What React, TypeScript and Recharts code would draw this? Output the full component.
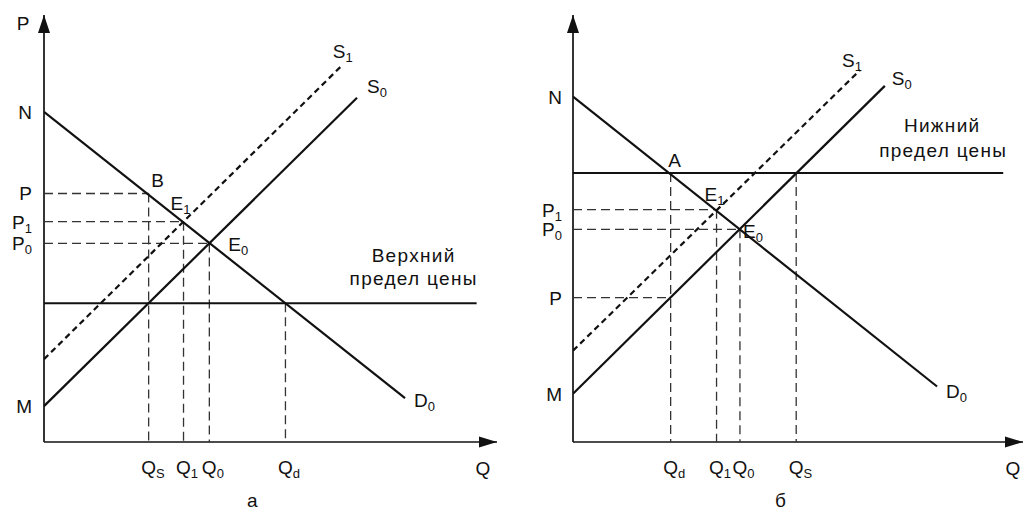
import React from "react";
import { LineChart, Line, XAxis, YAxis, ReferenceLine, ReferenceDot } from "recharts";

type Pt = { q: number; p: number };
type TickLabel = { v: number; main: string; sub?: string };
type Note = {
  text: string;
  sub?: string;
  at: Pt;
  dx: number;
  dy: number;
  anchor?: "start" | "middle" | "end";
  big?: boolean;
};

// ---------- а: верхний предел цены ----------
const demandA: Pt[] = [{ q: 0, p: 77.3 }, { q: 79.7, p: 10.3 }];
const supply0A: Pt[] = [{ q: 0, p: 8.4 }, { q: 69.1, p: 80.6 }];
const supply1A: Pt[] = [{ q: 0, p: 19.4 }, { q: 65.5, p: 87.9 }];
const limitA: Pt[] = [{ q: 0, p: 32.5 }, { q: 95.5, p: 32.5 }];
const priceTicksA: TickLabel[] = [
  { v: 77.3, main: "N" },
  { v: 58.2, main: "P" },
  { v: 51.6, main: "P", sub: "1" },
  { v: 46.5, main: "P", sub: "0" },
  { v: 8.4, main: "M" },
];
const qtyTicksA: TickLabel[] = [
  { v: 23.1, main: "Q", sub: "S" },
  { v: 30.8, main: "Q", sub: "1" },
  { v: 36.5, main: "Q", sub: "0" },
  { v: 53.3, main: "Q", sub: "d" },
];
// пунктир: от оси P до точки и от оси Q до точки
const hGuidesA: Pt[] = [{ q: 23.1, p: 58.2 }, { q: 30.8, p: 51.6 }, { q: 36.5, p: 46.5 }];
const vGuidesA: Pt[] = [{ q: 23.1, p: 58.2 }, { q: 30.8, p: 51.6 }, { q: 36.5, p: 46.5 }, { q: 53.3, p: 32.5 }];

// ---------- б: нижний предел цены ----------
const demandB: Pt[] = [{ q: 0, p: 80.9 }, { q: 80.9, p: 13.0 }];
const supply0B: Pt[] = [{ q: 0, p: 11.3 }, { q: 69.3, p: 83.4 }];
const supply1B: Pt[] = [{ q: 0, p: 21.4 }, { q: 63.8, p: 87.1 }];
const limitB: Pt[] = [{ q: 0, p: 63.0 }, { q: 95.6, p: 63.0 }];
const priceTicksB: TickLabel[] = [
  { v: 80.9, main: "N" },
  { v: 54.4, main: "P", sub: "1" },
  { v: 49.8, main: "P", sub: "0" },
  { v: 33.8, main: "P" },
  { v: 11.3, main: "M" },
];
const qtyTicksB: TickLabel[] = [
  { v: 21.7, main: "Q", sub: "d" },
  { v: 31.9, main: "Q", sub: "1" },
  { v: 37.1, main: "Q", sub: "0" },
  { v: 49.6, main: "Q", sub: "S" },
];
const hGuidesB: Pt[] = [{ q: 31.9, p: 54.4 }, { q: 37.1, p: 49.8 }, { q: 21.7, p: 33.8 }];
const vGuidesB: Pt[] = [{ q: 21.7, p: 63.0 }, { q: 31.9, p: 54.4 }, { q: 37.1, p: 49.8 }, { q: 49.6, p: 63.0 }];

// подписи (смещения в пикселях от опорной точки)
const notesA: Note[] = [
  { text: "P", at: { q: 0, p: 100 }, dx: -21, dy: 8, anchor: "middle" },
  { text: "Q", at: { q: 100, p: 0 }, dx: -14, dy: 26, anchor: "middle" },
  { text: "B", at: { q: 23.1, p: 58.2 }, dx: 9, dy: -13, anchor: "middle" },
  { text: "E", sub: "1", at: { q: 30.8, p: 51.6 }, dx: -13, dy: -19 },
  { text: "E", sub: "0", at: { q: 36.5, p: 46.5 }, dx: 19, dy: 1 },
  { text: "S", sub: "1", at: { q: 65.5, p: 87.9 }, dx: -8, dy: -16 },
  { text: "S", sub: "0", at: { q: 69.1, p: 80.6 }, dx: 10, dy: -12 },
  { text: "D", sub: "0", at: { q: 79.7, p: 10.3 }, dx: 9, dy: 2 },
  { text: "Верхний", at: { q: 95.5, p: 32.5 }, dx: -63, dy: -48, anchor: "middle", big: true },
  { text: "предел цены", at: { q: 95.5, p: 32.5 }, dx: -63, dy: -25, anchor: "middle", big: true },
  { text: "а", at: { q: 0, p: 0 }, dx: 209, dy: 58, anchor: "middle", big: true },
];
const notesB: Note[] = [
  { text: "Q", at: { q: 100, p: 0 }, dx: -10, dy: 26, anchor: "middle" },
  { text: "Нижний", at: { q: 95.6, p: 63.0 }, dx: -61, dy: -48, anchor: "middle", big: true },
  { text: "предел цены", at: { q: 95.6, p: 63.0 }, dx: -60, dy: -23, anchor: "middle", big: true },
  { text: "A", at: { q: 21.7, p: 63.0 }, dx: 4, dy: -13, anchor: "middle" },
  { text: "E", sub: "1", at: { q: 31.9, p: 54.4 }, dx: -12, dy: -16 },
  { text: "E", sub: "0", at: { q: 37.1, p: 49.8 }, dx: 3, dy: 2 },
  { text: "S", sub: "1", at: { q: 63.8, p: 87.1 }, dx: -18, dy: -10 },
  { text: "S", sub: "0", at: { q: 69.3, p: 83.4 }, dx: 7, dy: -8 },
  { text: "D", sub: "0", at: { q: 80.9, p: 13.0 }, dx: 9, dy: 5 },
  { text: "б", at: { q: 0, p: 0 }, dx: 208, dy: 58, anchor: "middle", big: true },
];

const INK = "#111";
const FONT = '"Liberation Sans", Arial, Helvetica, sans-serif';

function SubText({ x, y, main, sub, anchor = "start", big = false }: any) {
  return (
    <text
      x={x}
      y={y + 7}
      textAnchor={anchor}
      fontFamily={FONT}
      fontSize={19}
      letterSpacing={big ? 1.3 : 0}
      fill={INK}
    >
      {main}
      {sub && (
        <tspan fontSize={13} dy={4}>
          {sub}
        </tspan>
      )}
    </text>
  );
}

const findLabel = (labels: TickLabel[], v: number) => labels.find((l) => Math.abs(l.v - v) < 1e-6);

function XTick(props: any) {
  const t = findLabel(props.labels, props.payload?.value);
  if (!t) return <g />;
  return <SubText x={props.x - 7.5} y={props.y} main={t.main} sub={t.sub} />;
}

function YTick(props: any) {
  const t = findLabel(props.labels, props.payload?.value);
  if (!t) return <g />;
  return <SubText x={props.x} y={props.y} main={t.main} sub={t.sub} anchor="end" />;
}

const arrowUp = (p: any) => (
  <polygon points={`${p.cx},${p.cy} ${p.cx - 6},${p.cy + 18} ${p.cx + 6},${p.cy + 18}`} fill={INK} />
);
const arrowRight = (p: any) => (
  <polygon points={`${p.cx},${p.cy} ${p.cx - 18},${p.cy - 5.5} ${p.cx - 18},${p.cy + 5.5}`} fill={INK} />
);

type PanelProps = {
  width: number;
  margin: { top: number; right: number; bottom: number; left: number };
  demand: Pt[];
  s0: Pt[];
  s1: Pt[];
  limit: Pt[];
  yTicks: TickLabel[];
  xTicks: TickLabel[];
  hGuides: Pt[];
  vGuides: Pt[];
  notes: Note[];
  yGap: number;
};

function Panel({ width, margin, demand, s0, s1, limit, yTicks, xTicks, hGuides, vGuides, notes, yGap }: PanelProps) {
  return (
    <LineChart width={width} height={512} margin={margin}>
      <XAxis
        type="number"
        dataKey="q"
        domain={[0, 100]}
        allowDataOverflow
        ticks={xTicks.map((t) => t.v)}
        interval={0}
        height={1}
        tickSize={0}
        tickMargin={25}
        tickLine={false}
        axisLine={false}
        tick={(p: any) => <XTick {...p} labels={xTicks} />}
      />
      <YAxis
        type="number"
        dataKey="p"
        domain={[0, 100]}
        allowDataOverflow
        ticks={yTicks.map((t) => t.v)}
        interval={0}
        width={1}
        tickSize={0}
        tickMargin={yGap - 1}
        tickLine={false}
        axisLine={false}
        tick={(p: any) => <YTick {...p} labels={yTicks} />}
      />
      {/* оси */}
      <ReferenceLine segment={[{ x: 0, y: 0 }, { x: 100, y: 0 }]} stroke={INK} strokeWidth={1.7} ifOverflow="visible" />
      <ReferenceLine segment={[{ x: 0, y: 0 }, { x: 0, y: 100 }]} stroke={INK} strokeWidth={1.7} ifOverflow="visible" />
      {hGuides.map((g, i) => (
        <ReferenceLine
          key={`h-${i}`}
          segment={[{ x: 0, y: g.p }, { x: g.q, y: g.p }]}
          stroke="#333"
          strokeWidth={1.3}
          strokeDasharray="9 5"
          ifOverflow="visible"
        />
      ))}
      {vGuides.map((g, i) => (
        <ReferenceLine
          key={`v-${i}`}
          segment={[{ x: g.q, y: g.p }, { x: g.q, y: 0 }]}
          stroke="#333"
          strokeWidth={1.3}
          strokeDasharray="9 5"
          ifOverflow="visible"
        />
      ))}
      <Line data={limit} dataKey="p" type="linear" stroke={INK} strokeWidth={2} dot={false} activeDot={false} isAnimationActive={false} />
      <Line data={demand} dataKey="p" type="linear" stroke={INK} strokeWidth={2.2} dot={false} activeDot={false} isAnimationActive={false} />
      <Line data={s0} dataKey="p" type="linear" stroke={INK} strokeWidth={2.2} dot={false} activeDot={false} isAnimationActive={false} />
      <Line
        data={s1}
        dataKey="p"
        type="linear"
        stroke={INK}
        strokeWidth={2.2}
        strokeDasharray="6 4"
        dot={false}
        activeDot={false}
        isAnimationActive={false}
      />
      <ReferenceDot x={0} y={100} r={0} ifOverflow="visible" shape={arrowUp} />
      <ReferenceDot x={100} y={0} r={0} ifOverflow="visible" shape={arrowRight} />
      {notes.map((n, i) => (
        <ReferenceDot
          key={`n-${i}`}
          x={n.at.q}
          y={n.at.p}
          r={0}
          ifOverflow="visible"
          shape={(p: any) => (
            <SubText x={p.cx + n.dx} y={p.cy + n.dy} main={n.text} sub={n.sub} anchor={n.anchor} big={n.big} />
          )}
        />
      ))}
    </LineChart>
  );
}

export default function App() {
  return (
    <div style={{ position: "absolute", left: 0, top: 0, width: 1025, height: 512, background: "#fff" }}>
      <div style={{ position: "absolute", left: 0, top: 0 }}>
        <Panel
          width={512}
          margin={{ top: 15, right: 15, bottom: 69, left: 43 }}
          demand={demandA}
          s0={supply0A}
          s1={supply1A}
          limit={limitA}
          yTicks={priceTicksA}
          xTicks={qtyTicksA}
          hGuides={hGuidesA}
          vGuides={vGuidesA}
          notes={notesA}
          yGap={13}
        />
      </div>
      <div style={{ position: "absolute", left: 512, top: 0 }}>
        <Panel
          width={513}
          margin={{ top: 15, right: 2, bottom: 69, left: 60 }}
          demand={demandB}
          s0={supply0B}
          s1={supply1B}
          limit={limitB}
          yTicks={priceTicksB}
          xTicks={qtyTicksB}
          hGuides={hGuidesB}
          vGuides={vGuidesB}
          notes={notesB}
          yGap={12}
        />
      </div>
    </div>
  );
}
